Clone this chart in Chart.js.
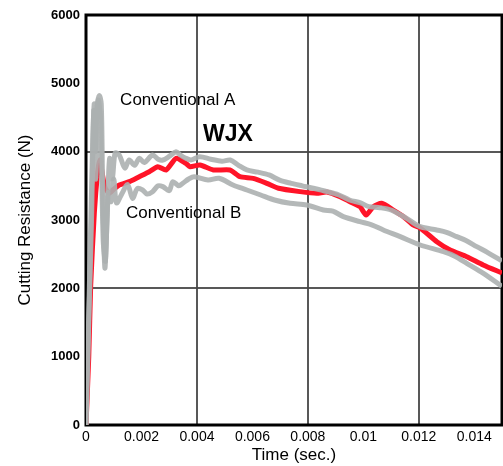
<!DOCTYPE html>
<html lang="en">
  <head>
    <meta charset="UTF-8" />
    <title>Cutting Resistance</title>
    <style>
      html, body { margin: 0; padding: 0; background: #fff; }
      #wrap { width: 503px; height: 466px; }
    </style>
  </head>
  <body>
    <div id="wrap">
      <canvas id="cutChart" width="503" height="466"></canvas>
    </div>

    <script src="https://cdn.jsdelivr.net/npm/chart.js"></script>
    <script>
      // values (time in sec, force in N)
      const timeA = [0, 0.0001, 0.0002, 0.00028, 0.00034, 0.0004, 0.00048, 0.00055, 0.0006, 0.00068, 0.00076, 0.00085, 0.00095, 0.00105, 0.0012, 0.0014, 0.00156, 0.00175, 0.00192, 0.0021, 0.0024, 0.0026, 0.00277, 0.003, 0.00325, 0.0034, 0.0036, 0.0038, 0.0041, 0.0045, 0.0049, 0.0052, 0.0055, 0.0058, 0.0062, 0.0066, 0.007, 0.0074, 0.0078, 0.0082, 0.0087, 0.0091, 0.0095, 0.0099, 0.0102, 0.0106, 0.011, 0.01156, 0.01205, 0.01265, 0.013, 0.01337, 0.0137, 0.01409, 0.0145, 0.015];
      const forceA = [0, 1500, 3000, 4600, 4000, 4650, 4820, 4700, 3500, 2300, 3000, 3900, 3600, 3980, 3950, 3760, 3878, 3800, 3903, 3840, 3951, 3890, 3878, 3930, 4000, 3951, 3903, 3880, 3927, 3890, 3860, 3878, 3800, 3732, 3700, 3659, 3580, 3537, 3500, 3464, 3415, 3370, 3293, 3250, 3195, 3180, 3146, 3024, 2902, 2854, 2820, 2756, 2700, 2610, 2520, 2400];

      const timeB = [0, 0.00012, 0.00022, 0.0003, 0.00036, 0.00044, 0.00052, 0.00062, 0.0007, 0.0008, 0.0009, 0.001, 0.0011, 0.0013, 0.0015, 0.00168, 0.00185, 0.00204, 0.0022, 0.0024, 0.0026, 0.00277, 0.003, 0.00313, 0.00335, 0.00349, 0.0037, 0.0039, 0.0044, 0.0048, 0.0053, 0.0058, 0.0063, 0.0068, 0.00736, 0.00796, 0.00856, 0.0089, 0.00928, 0.00988, 0.0103, 0.01072, 0.01133, 0.01205, 0.01289, 0.0133, 0.01373, 0.01433, 0.01493, 0.015];
      const forceB = [0, 2000, 3800, 4700, 3600, 4750, 4500, 2700, 2400, 3400, 3268, 3600, 3250, 3390, 3520, 3317, 3460, 3439, 3380, 3415, 3500, 3488, 3430, 3561, 3500, 3537, 3600, 3634, 3585, 3610, 3512, 3439, 3366, 3293, 3244, 3220, 3146, 3130, 3049, 2976, 2930, 2854, 2756, 2634, 2536, 2470, 2366, 2220, 2049, 2030];

      const timeWJX = [0, 0.0001, 0.00017, 0.0003, 0.00042, 0.0005, 0.00058, 0.00068, 0.00084, 0.001, 0.0012, 0.00156, 0.00192, 0.00228, 0.00259, 0.00289, 0.00325, 0.0036, 0.00375, 0.00411, 0.00459, 0.00519, 0.00555, 0.00603, 0.00652, 0.00694, 0.00772, 0.00832, 0.00868, 0.00916, 0.00952, 0.00988, 0.0101, 0.01036, 0.01066, 0.01108, 0.01145, 0.0118, 0.01205, 0.01265, 0.01313, 0.01373, 0.01432, 0.015];
      const forceWJX = [0, 1000, 2050, 3100, 3700, 3880, 3700, 3480, 3390, 3450, 3512, 3561, 3634, 3707, 3780, 3732, 3903, 3829, 3780, 3805, 3732, 3732, 3634, 3610, 3537, 3464, 3415, 3390, 3410, 3342, 3268, 3195, 3073, 3195, 3244, 3146, 3049, 2927, 2883, 2683, 2561, 2463, 2342, 2224];

      const xTicks = [0, 0.002, 0.004, 0.006, 0.008, 0.01, 0.012, 0.014];
      const yTicks = [0, 1000, 2000, 3000, 4000, 5000, 6000];
      const xGrid = [0.004, 0.008, 0.012];
      const yGrid = [2000, 4000];

      const notes = [
        { text: "Conventional A", t: 0.00123, f: 4756, bold: false, size: 17 },
        { text: "WJX", t: 0.00422, f: 4244, bold: true, size: 23 },
        { text: "Conventional B", t: 0.00144, f: 3103, bold: false, size: 17 },
      ];

      const FONT = "'Liberation Sans', Arial, sans-serif";

      function pairs(ts, vs) {
        return ts.map((t, i) => ({ x: t, y: vs[i] }));
      }
      function isIn(list, v) {
        return list.some((g) => Math.abs(g - v) < 1e-9);
      }

      const framePlugin = {
        id: "frame",
        beforeDatasetsDraw(chart) {
          const { ctx, chartArea: a } = chart;
          ctx.save();
          ctx.strokeStyle = "#000";
          ctx.lineWidth = 3;
          ctx.strokeRect(a.left, a.top, a.right - a.left, a.bottom - a.top);
          ctx.restore();
        },
      };

      const notesPlugin = {
        id: "notes",
        afterDatasetsDraw(chart) {
          const { ctx } = chart;
          const xs = chart.scales.x;
          const ys = chart.scales.y;
          ctx.save();
          ctx.fillStyle = "#000";
          ctx.textBaseline = "middle";
          ctx.textAlign = "left";
          notes.forEach((n) => {
            ctx.font = (n.bold ? "bold " : "") + n.size + "px " + FONT;
            ctx.fillText(n.text, xs.getPixelForValue(n.t), ys.getPixelForValue(n.f));
          });
          ctx.restore();
        },
      };

      let canvas = document.querySelector("#cutChart");
      let chart = new Chart(canvas, {
        type: "scatter",
        data: {
          datasets: [
            {
              label: "Conventional A",
              data: pairs(timeA, forceA),
              showLine: true,
              borderColor: "rgba(172,176,176,0.9)",
              borderWidth: 5,
              pointRadius: 0,
              tension: 0.3,
            },
            {
              label: "Conventional B",
              data: pairs(timeB, forceB),
              showLine: true,
              borderColor: "rgba(172,176,176,0.9)",
              borderWidth: 5,
              pointRadius: 0,
              tension: 0.3,
            },
            {
              label: "WJX",
              data: pairs(timeWJX, forceWJX),
              showLine: true,
              borderColor: "#ff1428",
              borderWidth: 5,
              pointRadius: 0,
              tension: 0.2,
            },
          ],
        },
        options: {
          responsive: false,
          animation: false,
          layout: { padding: { top: 15, right: 1, left: 0, bottom: 0 } },
          plugins: {
            legend: { display: false },
            tooltip: { enabled: false },
          },
          scales: {
            x: {
              type: "linear",
              min: 0,
              max: 0.015,
              afterFit: (s) => { s.height = 41; },
              afterBuildTicks: (s) => { s.ticks = xTicks.map((v) => ({ value: v })); },
              border: { display: false },
              grid: {
                drawTicks: false,
                lineWidth: 2,
                color: (c) => (isIn(xGrid, c.tick.value) ? "rgba(70,70,70,0.9)" : "rgba(0,0,0,0)"),
              },
              ticks: {
                padding: 4,
                color: "#000",
                font: { family: FONT, size: 14 },
                callback: (v) => String(v),
              },
              title: {
                display: true,
                text: "Time (sec.)",
                color: "#000",
                font: { family: FONT, size: 17 },
                padding: { top: 0, bottom: 0 },
              },
            },
            y: {
              min: 0,
              max: 6000,
              afterFit: (s) => { s.width = 86; },
              afterBuildTicks: (s) => { s.ticks = yTicks.map((v) => ({ value: v })); },
              border: { display: false },
              grid: {
                drawTicks: false,
                lineWidth: 2,
                color: (c) => (isIn(yGrid, c.tick.value) ? "rgba(70,70,70,0.9)" : "rgba(0,0,0,0)"),
              },
              ticks: {
                padding: 6,
                color: "#000",
                font: { family: FONT, size: 13, weight: "bold" },
                callback: (v) => String(v),
              },
              title: {
                display: true,
                text: "Cutting Resistance (N)",
                color: "#000",
                font: { family: FONT, size: 17 },
                padding: { top: 15, bottom: 15 },
              },
            },
          },
        },
        plugins: [framePlugin, notesPlugin],
      });
    </script>
  </body>
</html>
